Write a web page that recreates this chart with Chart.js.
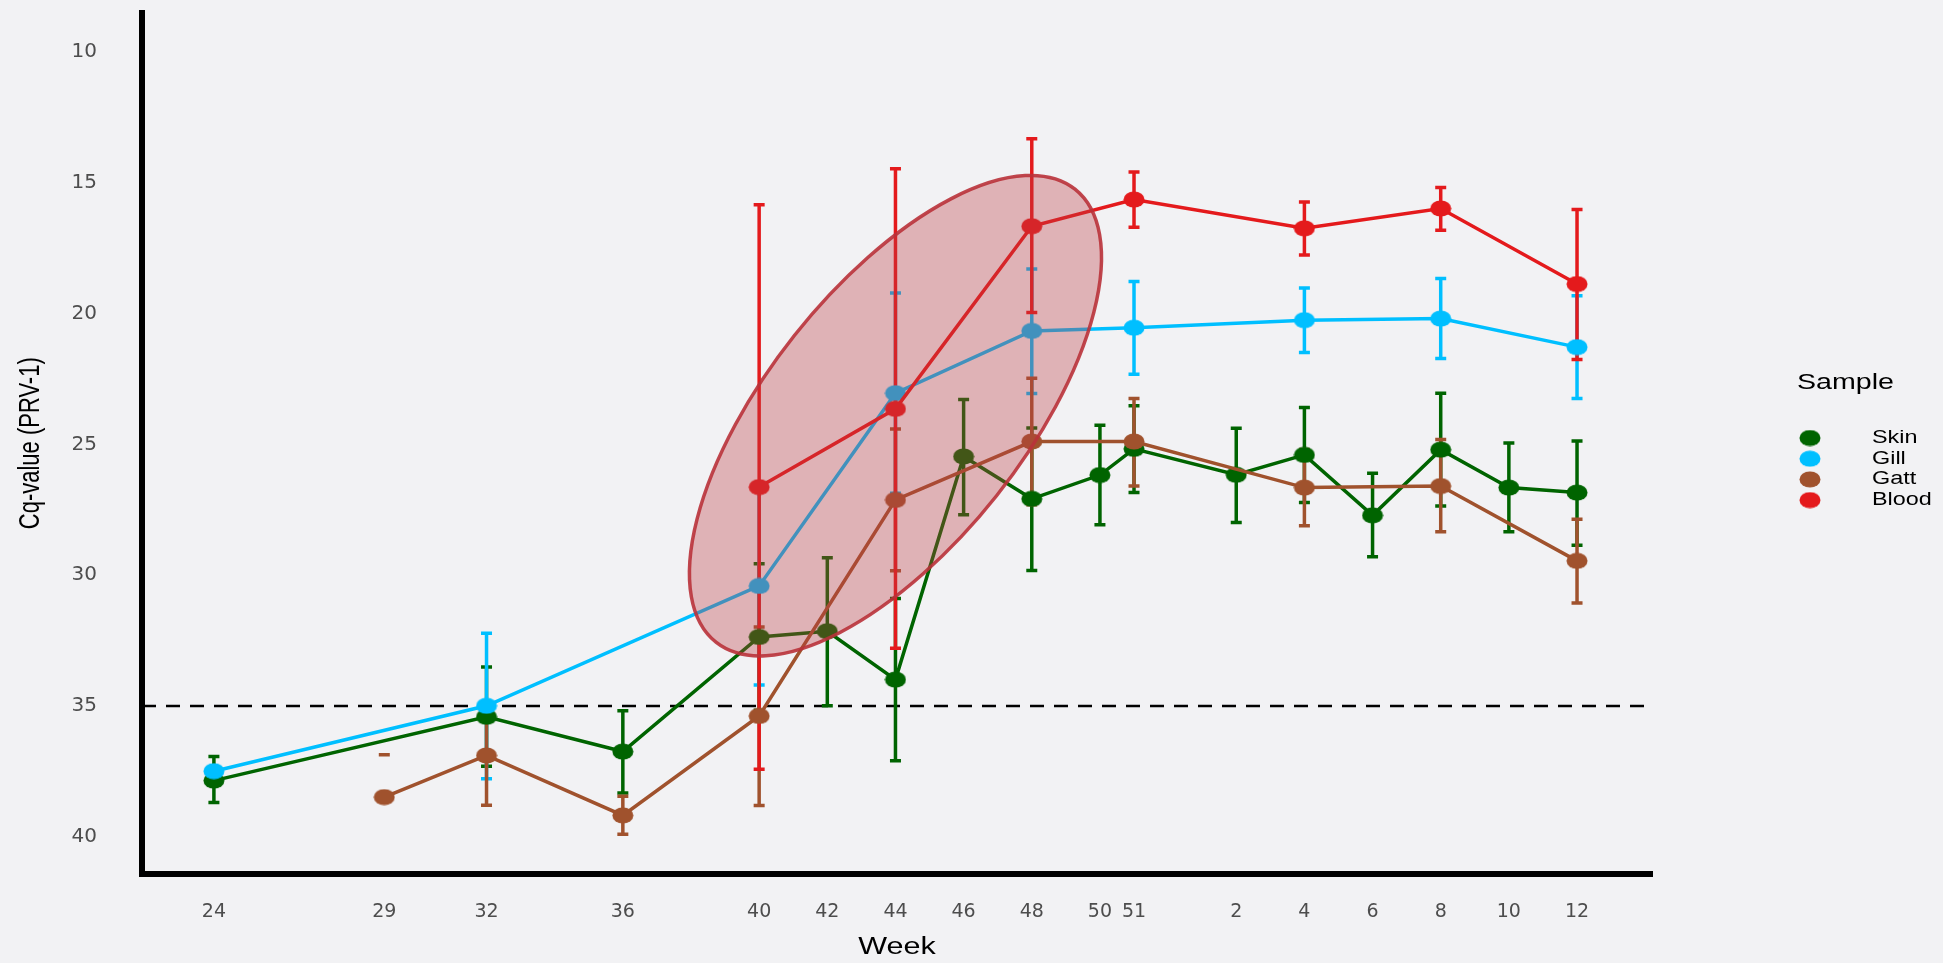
<!DOCTYPE html>
<html>
<head>
<meta charset="utf-8">
<script src="https://cdn.jsdelivr.net/npm/chart.js@4.4.1/dist/chart.umd.min.js"></script>
<style>
  html, body { margin: 0; padding: 0; background: #f2f2f4; }
</style>
</head>
<body>
<canvas id="cqChart" width="1943" height="963"></canvas>
<script>
// weeks are counted on from week 24; weeks of the second year are 52 + week
const tickWeeks = [24, 29, 32, 36, 40, 42, 44, 46, 48, 50, 51, 54, 56, 58, 60, 62, 64];
const tickLabels = ['24', '29', '32', '36', '40', '42', '44', '46', '48', '50', '51', '2', '4', '6', '8', '10', '12'];
const yTicks = [10, 15, 20, 25, 30, 35, 40];
const cutoff = 35;

const sampleNames = ['Skin', 'Gill', 'Gatt', 'Blood'];
const sampleColors = ['#006400', '#00bfff', '#a0522d', '#e41a1c'];

const skinWeeks = [24, 32, 36, 40, 42, 44, 46, 48, 50, 51, 54, 56, 58, 60, 62, 64];
const skinCq    = [37.85, 35.41, 36.74, 32.36, 32.14, 33.99, 25.46, 27.08, 26.17, 25.17, 26.16, 25.40, 27.71, 25.20, 26.65, 26.84];
const skinLow   = [36.93, 33.51, 35.18, 29.56, 29.33, 30.89, 23.28, 24.37, 24.27, 23.52, 24.38, 23.59, 26.10, 23.04, 24.95, 24.87];
const skinHigh  = [38.69, 37.30, 38.32, 35.16, 34.99, 37.09, 27.69, 29.82, 28.07, 26.84, 27.98, 27.22, 29.29, 27.35, 28.34, 28.85];

const gillWeeks = [24, 32, 40, 44, 48, 51, 56, 60, 64];
const gillCq    = [37.49, 34.99, 30.41, 23.04, 20.66, 20.54, 20.25, 20.19, 21.28];
const gillLow   = [null, 32.22, 26.60, 19.21, 18.29, 18.77, 19.02, 18.66, 19.32];
const gillHigh  = [null, 37.78, 34.20, 26.87, 23.05, 22.32, 21.49, 21.72, 23.24];

const gattWeeks = [29, 32, 36, 40, 44, 48, 51, 56, 60, 64];
const gattCq    = [38.48, 36.89, 39.18, 35.38, 27.12, 24.89, 24.89, 26.65, 26.59, 29.45];
const gattLow   = [36.86, 34.99, 38.45, 31.98, 24.41, 22.47, 23.24, 25.19, 24.81, 27.86];
const gattHigh  = [36.86, 38.79, 39.90, 38.80, 29.83, 27.31, 26.59, 28.11, 28.34, 31.06];

const bloodWeeks = [40, 44, 48, 51, 56, 60, 64];
const bloodCq    = [26.63, 23.64, 16.66, 15.64, 16.74, 15.98, 18.87];
const bloodLow   = [15.84, 14.46, 13.32, 14.59, 15.73, 15.18, 16.02];
const bloodHigh  = [37.42, 32.79, 19.96, 16.70, 17.76, 16.81, 21.75];

// slightly wide dots, like the original
function dot(color) {
    const c = document.createElement('canvas');
    c.width = 22;
    c.height = 17;
    const g = c.getContext('2d');
    g.fillStyle = color;
    g.beginPath();
    g.ellipse(11, 8.5, 10.5, 8, 0, 0, Math.PI * 2);
    g.fill();
    return c;
}

function makeSet(i, weeks, cq, low, high) {
    return {
        label: sampleNames[i],
        data: weeks.map((w, k) => ({ x: w, y: cq[k] })),
        errLow: low,
        errHigh: high,
        borderColor: sampleColors[i],
        backgroundColor: sampleColors[i],
        borderWidth: 3.5,
        pointStyle: dot(sampleColors[i]),
        pointRadius: 9,
        tension: 0,
        order: 3 - i
    };
}

// text stretched a little sideways, as in the original picture
function wideText(ctx, text, x, y, rot, sx, sy) {
    ctx.save();
    ctx.translate(x, y);
    ctx.rotate(rot);
    ctx.scale(sx, sy);
    ctx.fillText(text, 0, 0);
    ctx.restore();
}

const errorBars = {
    id: 'errorBars',
    beforeDatasetsDraw(chart) {
        const { ctx, chartArea, scales: { x, y } } = chart;
        ctx.save();
        // dashed cut-off line
        ctx.setLineDash([14, 10]);
        ctx.lineWidth = 2.5;
        ctx.strokeStyle = '#000';
        ctx.beginPath();
        ctx.moveTo(chartArea.left, y.getPixelForValue(cutoff));
        ctx.lineTo(chartArea.right, y.getPixelForValue(cutoff));
        ctx.stroke();
        ctx.setLineDash([]);

        const sets = chart.data.datasets.slice().sort((a, b) => b.order - a.order);
        sets.forEach(ds => {
            ctx.strokeStyle = ds.borderColor;
            ctx.lineWidth = 3.5;
            ds.data.forEach((p, i) => {
                const lo = ds.errLow[i], hi = ds.errHigh[i];
                if (lo == null) return;
                const px = x.getPixelForValue(p.x);
                const y1 = y.getPixelForValue(lo);
                const y2 = y.getPixelForValue(hi);
                ctx.beginPath();
                ctx.moveTo(px, y1); ctx.lineTo(px, y2);
                ctx.moveTo(px - 5.5, y1); ctx.lineTo(px + 5.5, y1);
                ctx.moveTo(px - 5.5, y2); ctx.lineTo(px + 5.5, y2);
                ctx.stroke();
            });
        });
        ctx.restore();
    }
};

const ellipseMark = {
    id: 'ellipseMark',
    afterDatasetsDraw(chart) {
        const { ctx, scales: { x, y } } = chart;
        ctx.save();
        ctx.beginPath();
        ctx.ellipse(x.getPixelForValue(44), y.getPixelForValue(23.9), 289, 129, -51.6 * Math.PI / 180, 0, Math.PI * 2);
        ctx.fillStyle = 'rgba(190, 60, 65, 0.35)';
        ctx.fill();
        ctx.lineWidth = 3.5;
        ctx.strokeStyle = 'rgba(185, 50, 58, 0.9)';
        ctx.stroke();
        ctx.restore();
    }
};

const titlesAndLegend = {
    id: 'titlesAndLegend',
    afterDraw(chart) {
        const { ctx, chartArea } = chart;
        ctx.save();
        ctx.fillStyle = '#000';
        ctx.textBaseline = 'middle';
        ctx.textAlign = 'center';
        ctx.font = '22px "Liberation Sans"';
        wideText(ctx, 'Cq-value (PRV-1)', 31, (chartArea.top + chartArea.bottom) / 2, -Math.PI / 2, 1, 1.3);
        ctx.font = '23.5px "Liberation Sans"';
        wideText(ctx, 'Week', (chartArea.left + chartArea.right) / 2, 948, 0, 1.3, 1);

        ctx.textAlign = 'left';
        ctx.font = '22px "Liberation Sans"';
        wideText(ctx, 'Sample', 1797, 383, 0, 1.3, 1);
        ctx.font = '18px "Liberation Sans"';
        chart.data.datasets.forEach((ds, i) => {
            const cy = 438 + i * 20.7;
            ctx.drawImage(ds.pointStyle, 1810 - 11, cy - 8.5);
            wideText(ctx, ds.label, 1872, cy, 0, 1.3, 1);
        });
        ctx.restore();
    }
};

new Chart(document.getElementById('cqChart'), {
    type: 'line',
    data: {
        datasets: [
            makeSet(0, skinWeeks, skinCq, skinLow, skinHigh),
            makeSet(1, gillWeeks, gillCq, gillLow, gillHigh),
            makeSet(2, gattWeeks, gattCq, gattLow, gattHigh),
            makeSet(3, bloodWeeks, bloodCq, bloodLow, bloodHigh)
        ]
    },
    options: {
        responsive: false,
        animation: false,
        layout: { padding: { top: 8, right: 291, bottom: 0, left: 0 } },
        plugins: {
            legend: { display: false },
            tooltip: { enabled: false }
        },
        scales: {
            x: {
                type: 'linear',
                min: 21.89,
                max: 66.2,
                grid: { display: false, drawTicks: false },
                border: { display: true, width: 6, color: '#000' },
                afterBuildTicks: s => { s.ticks = tickWeeks.map(v => ({ value: v })); },
                afterFit: s => { s.height = 89; s.paddingLeft = 0; s.paddingRight = 0; },
                ticks: {
                    autoSkip: false,
                    maxRotation: 0,
                    padding: 27,
                    color: '#4d4d4d',
                    font: { family: 'DejaVu Sans', size: 19 },
                    callback: v => tickLabels[tickWeeks.indexOf(v)]
                }
            },
            y: {
                type: 'linear',
                reverse: true,
                min: 8.49,
                max: 41.42,
                grid: { display: false, drawTicks: false },
                border: { display: true, width: 6, color: '#000' },
                afterBuildTicks: s => { s.ticks = yTicks.map(v => ({ value: v })); },
                afterFit: s => { s.width = 142; s.paddingTop = 0; s.paddingBottom = 0; },
                ticks: {
                    padding: 45,
                    color: '#4d4d4d',
                    font: { family: 'DejaVu Sans', size: 20 }
                }
            }
        }
    },
    plugins: [errorBars, ellipseMark, titlesAndLegend]
});
</script>
</body>
</html>
